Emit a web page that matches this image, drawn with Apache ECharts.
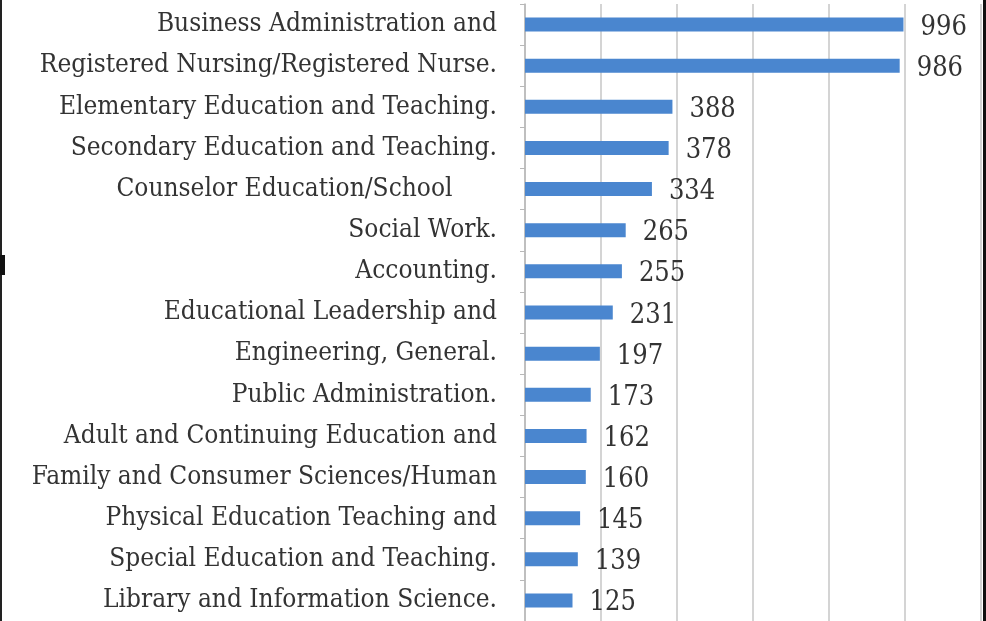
<!DOCTYPE html>
<html><head><meta charset="utf-8">
<script src="https://cdn.jsdelivr.net/npm/echarts@6/dist/echarts.min.js"></script>
<style>html,body{margin:0;padding:0;background:#fff;}#c{width:986px;height:621px;}</style>
</head><body><div id="c"></div>
<script>
const categories = [
  "Business Administration and",
  "Registered Nursing/Registered Nurse.",
  "Elementary Education and Teaching.",
  "Secondary Education and Teaching.",
  "Counselor Education/School      ",
  "Social Work.",
  "Accounting.",
  "Educational Leadership and",
  "Engineering, General.",
  "Public Administration.",
  "Adult and Continuing Education and",
  "Family and Consumer Sciences/Human",
  "Physical Education Teaching and",
  "Special Education and Teaching.",
  "Library and Information Science."
];
const values = [996, 986, 388, 378, 334, 265, 255, 231, 197, 173, 162, 160, 145, 139, 125];
const axisMin = 0, axisMax = 1200, axisStep = 200;

const chart = echarts.init(document.getElementById('c'));
chart.setOption({
  animation: false,
  grid: {left: 525, right: 5, top: 4, height: 618, containLabel: false},
  xAxis: {
    type: 'value', min: axisMin, max: axisMax, interval: axisStep,
    axisLabel: {show: false}, axisLine: {show: false}, axisTick: {show: false},
    splitLine: {show: true, lineStyle: {color: '#c6c6c6', width: 1.5}}
  },
  yAxis: {
    type: 'category', data: categories, inverse: true,
    axisLine: {show: true, lineStyle: {color: '#b8b8b8', width: 1.5}},
    axisTick: {show: true, length: 5, lineStyle: {color: '#b8b8b8'}},
    axisLabel: {margin: 28, color: '#333', fontFamily: 'DejaVu Serif Condensed', fontSize: 26}
  },
  series: [{
    type: 'bar', data: values, barWidth: 14,
    itemStyle: {color: '#4a86cf'},
    label: {show: true, position: 'right', distance: 17, offset: [0, 3], color: '#333', fontFamily: 'DejaVu Serif Condensed', fontSize: 27}
  }],
  graphic: [
    {type: 'rect', shape: {x: 983, y: 0, width: 3, height: 621}, style: {fill: '#111'}},
    {type: 'rect', shape: {x: 0, y: 0, width: 2, height: 621}, style: {fill: '#222'}},
    {type: 'rect', shape: {x: 0, y: 255, width: 5, height: 20}, style: {fill: '#111'}}
  ]
});
</script></body></html>
